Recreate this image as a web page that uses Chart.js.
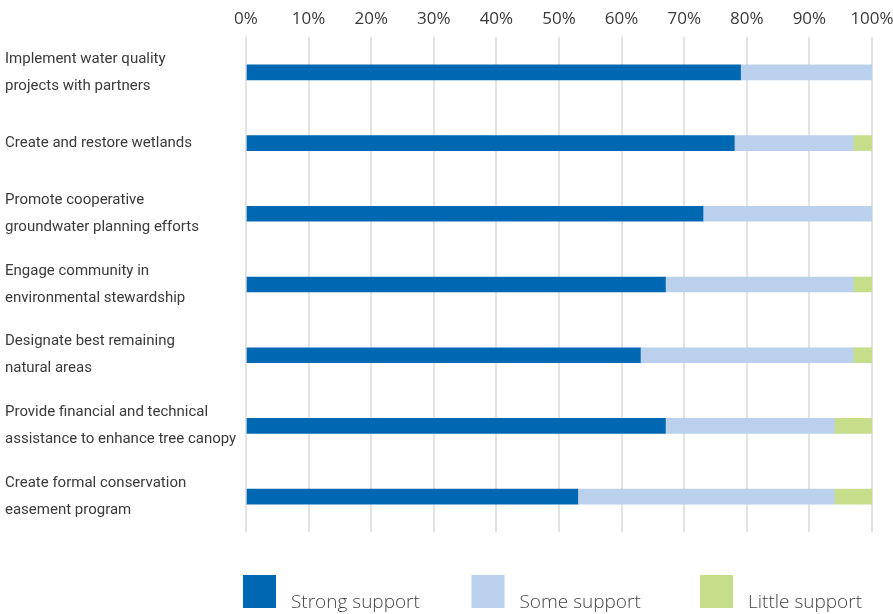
<!DOCTYPE html>
<html lang="en">
<head>
    <meta charset="UTF-8">
    <title>Support for Conservation Actions</title>
    <script src="https://cdn.jsdelivr.net/npm/chart.js"></script>
    <style>
        html, body { margin: 0; padding: 0; background: #fff; }
        #wrap { width: 893px; height: 614px; position: relative; }
    </style>
</head>
<body>
    <div id="wrap"><canvas id="supportChart"></canvas></div>

    <script>
        // Survey categories (one line per array item)
        const categories = [
            ['Implement water quality', 'projects with partners'],
            ['Create and restore wetlands'],
            ['Promote cooperative', 'groundwater planning efforts'],
            ['Engage community in', 'environmental stewardship'],
            ['Designate best remaining', 'natural areas'],
            ['Provide financial and technical', 'assistance to enhance tree canopy'],
            ['Create formal conservation', 'easement program']
        ];
        const strongSupport = [79, 78, 73, 67, 63, 67, 53];
        const someSupport   = [21, 19, 27, 30, 34, 27, 41];
        const littleSupport = [0, 3, 0, 3, 3, 6, 6];
        const seriesNames = ['Strong support', 'Some support', 'Little support'];
        const seriesColors = ['#0068b3', '#bad0ec', '#c6de8a'];
        const tickValues = [0, 10, 20, 30, 40, 50, 60, 70, 80, 90, 100];

        const textColor = '#3a3a3a';

        // legend drawn under the plot with fixed slots like the original
        const bottomLegend = {
            id: 'bottomLegend',
            afterDraw(chart) {
                const ctx = chart.ctx;
                const left = chart.chartArea.left - 3;
                ctx.save();
                ctx.font = '300 19px "Open Sans", sans-serif';
                ctx.textBaseline = 'alphabetic';
                chart.data.datasets.forEach((ds, i) => {
                    const x = left + i * 228.5;
                    ctx.fillStyle = ds.backgroundColor;
                    ctx.fillRect(x, 575, 33, 33);
                    ctx.fillStyle = '#444';
                    ctx.fillText(ds.label, x + 48, 608);
                });
                ctx.restore();
            }
        };

        const values = [strongSupport, someSupport, littleSupport];

        new Chart(document.getElementById('supportChart'), {
            type: 'bar',
            data: {
                labels: categories,
                datasets: seriesNames.map((name, i) => ({
                    label: name,
                    data: values[i],
                    backgroundColor: seriesColors[i],
                    borderWidth: 0,
                    barThickness: 15
                }))
            },
            options: {
                indexAxis: 'y',
                responsive: true,
                maintainAspectRatio: false,
                animation: false,
                events: [],
                layout: { padding: { left: 5, right: 21, top: 0, bottom: 82 } },
                plugins: {
                    legend: { display: false },
                    tooltip: { enabled: false }
                },
                scales: {
                    x: {
                        position: 'top',
                        stacked: true,
                        min: 0,
                        max: 100,
                        afterBuildTicks: axis => {
                            axis.ticks = tickValues.map(v => ({ value: v }));
                        },
                        afterFit: axis => {
                            axis.height = 37;
                            axis.paddingLeft = 0;
                            axis.paddingRight = 0;
                        },
                        border: { display: false },
                        grid: { color: '#e3e3e3', lineWidth: 2, drawTicks: false },
                        ticks: {
                            padding: 8,
                            color: textColor,
                            font: { family: '"Open Sans", sans-serif', size: 17 },
                            callback: v => v + '%'
                        }
                    },
                    y: {
                        stacked: true,
                        afterFit: axis => { axis.width = 241; },
                        border: { display: false },
                        grid: { display: false },
                        ticks: {
                            crossAlign: 'far',
                            padding: 0,
                            color: textColor,
                            font: { family: 'Roboto, sans-serif', size: 15, lineHeight: '27px' }
                        }
                    }
                }
            },
            plugins: [bottomLegend]
        });
    </script>
</body>
</html>
